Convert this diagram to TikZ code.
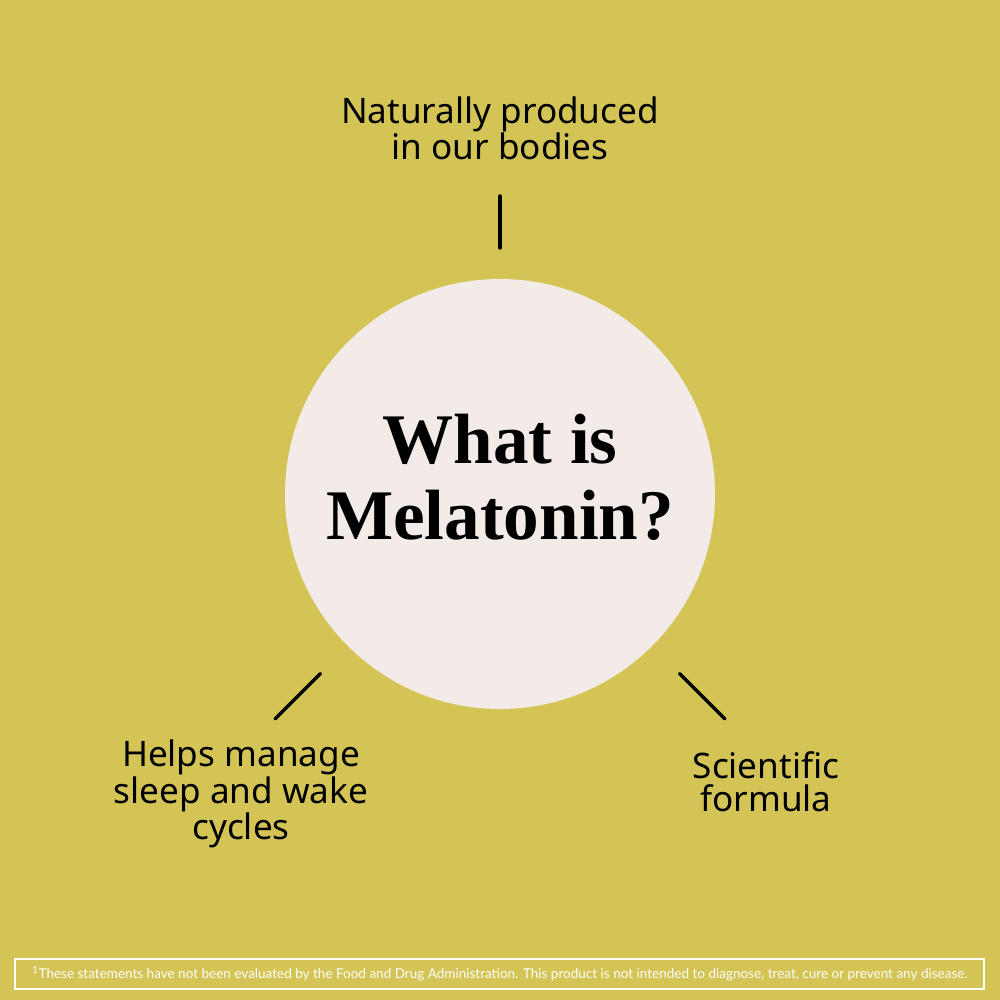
\documentclass[tikz,border=0pt]{standalone}
\usepackage{fontspec}
\usepackage{graphicx}
\setmainfont{Liberation Serif}
\newfontfamily\blurbfont{Noto Sans}
\newfontfamily\notefont{Lato}
\usetikzlibrary{calc}
\definecolor{mustard}{RGB}{212,196,85}
\definecolor{shell}{RGB}{242,235,232}

\begin{document}
\begin{tikzpicture}[x=0.2mm,y=0.2mm,
    tick/.style={line width=2pt,line cap=round},
    blurb/.style={font=\blurbfont\fontsize{20}{19.3}\selectfont,align=center,inner sep=0pt,anchor=base}]
    % background
    \fill[mustard] (0,0) rectangle (1000,1000);
    \useasboundingbox (0,0) rectangle (1000,1000);
    % disc and title
    \node[circle,fill=shell,minimum size=8.6cm,inner sep=0pt] (melatonin) at (500,506) {};
    \node[font=\bfseries\fontsize{40.5}{43.8}\selectfont,align=center,inner sep=0pt,anchor=base] (title) at (500,460) {What is\\Melatonin?};
    % labels
    \node[blurb] (natural) at (500,840) {Naturally produced\\in our bodies};
    \node[blurb] (sleep) at (241,160) {Helps manage\\sleep and wake\\cycles};
    \node[blurb] (formula) at (766,188) {Scientific\\formula};
    % ticks
    \coordinate (topA) at ($(melatonin.center)+(90:246)$);
    \coordinate (topB) at ($(melatonin.center)+(90:298)$);
    \coordinate (leftA) at ($(melatonin.center)+(225:254)$);
    \coordinate (leftB) at ($(melatonin.center)+(225:318)$);
    \coordinate (rightA) at ($(melatonin.center)+(-45:254)$);
    \coordinate (rightB) at ($(melatonin.center)+(-45:318)$);
    \draw[tick] (topA) -- (topB);
    \draw[tick] (leftA) -- (leftB);
    \draw[tick] (rightA) -- (rightB);
    % footer
    \draw[white,line width=0.7pt] (15,11) rectangle (984,41);
    \node[text=white,inner sep=0pt,anchor=base] (note) at (500,22) {\resizebox{18.7cm}{!}{\notefont\textsuperscript{1}These statements have not been evaluated by the Food and Drug Administration. This product is not intended to diagnose, treat, cure or prevent any disease.}};
\end{tikzpicture}
\end{document}
